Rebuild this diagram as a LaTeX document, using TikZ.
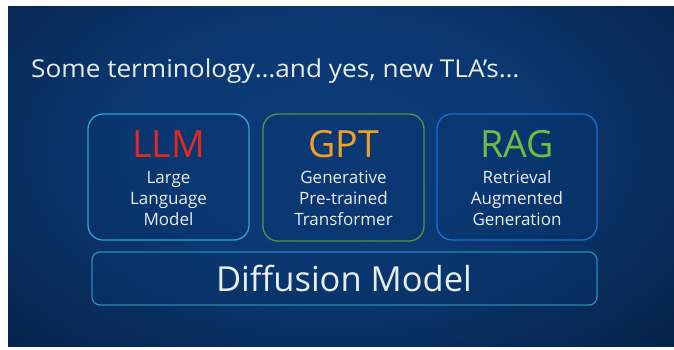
\documentclass[tikz,border=0pt]{standalone}
\usepackage{fontspec}
\setmainfont{Open Sans}
\newfontfamily\titlefont[FakeStretch=1.065]{Open Sans}
\definecolor{bgdark}{RGB}{3,22,50}
\definecolor{bglight}{RGB}{12,60,122}
\definecolor{txt}{RGB}{232,238,245}
\definecolor{llmborder}{RGB}{52,160,210}
\definecolor{gptborder}{RGB}{76,150,70}
\definecolor{ragborder}{RGB}{30,110,200}
\definecolor{difborder}{RGB}{40,140,180}
\definecolor{llmred}{RGB}{225,40,35}
\definecolor{gptorange}{RGB}{240,160,40}
\definecolor{raggreen}{RGB}{110,190,70}
\definecolor{boxfill}{RGB}{8,52,108}
\pgfdeclareradialshading{bgshade}{\pgfpoint{0bp}{0bp}}{color(0bp)=(bglight); color(12bp)=(bglight!88!bgdark); color(35bp)=(bgdark); color(50bp)=(bgdark)}
\tikzset{
  termbox/.style={draw, line width=1.3pt, rounded corners=15pt, fill=boxfill, fill opacity=0.35, text opacity=1},
  acro/.style={font=\fontsize{37.5}{36}\selectfont},
  sub/.style={text=txt, font=\fontsize{17}{21}\selectfont, align=center},
}
\begin{document}
\begin{tikzpicture}[x=1pt,y=-1pt]
\useasboundingbox (0,0) rectangle (674,349);
\fill[white] (0,0) rectangle (674,349);
\begin{scope}
\clip (8,6) rectangle (674,346);
\fill[bgdark] (8,6) rectangle (674,346);
\shade[shading=bgshade] (-110,-120) rectangle (770,420);
\end{scope}
% title
\node[anchor=base west, text=txt, font=\titlefont\fontsize{24.6}{25}\selectfont, inner sep=0] (title) at (31,77) {Some terminology…and yes, new TLA’s…};
% boxes
\draw[termbox, draw=llmborder] (88,114) rectangle (249,240);
\draw[termbox, draw=gptborder] (263,114) rectangle (424,241);
\draw[termbox, draw=ragborder] (437,114) rectangle (597,240);
\draw[termbox, draw=difborder, rounded corners=8pt] (92,252) rectangle (597,305);
% acronyms
\node[acro, text=llmred, anchor=base, inner sep=0] (llm) at (168.5,157) {LLM};
\node[acro, text=gptorange, anchor=base, inner sep=0] (gpt) at (343.5,157) {GPT};
\node[acro, text=raggreen, anchor=base, inner sep=0] (rag) at (517,157) {RAG};
% descriptions
\node[sub, anchor=base, inner sep=0] (llmd) at (168.5,225) {Large\\Language\\Model};
\node[sub, anchor=base, inner sep=0] (gptd) at (343.5,225) {Generative\\Pre-trained\\Transformer};
\node[sub, anchor=base, inner sep=0] (ragd) at (517,225) {Retrieval\\Augmented\\Generation};
% diffusion
\node[text=txt, font=\fontsize{34.5}{35}\selectfont, anchor=base, inner sep=0] (dif) at (344,291) {Diffusion Model};
\end{tikzpicture}
\end{document}
